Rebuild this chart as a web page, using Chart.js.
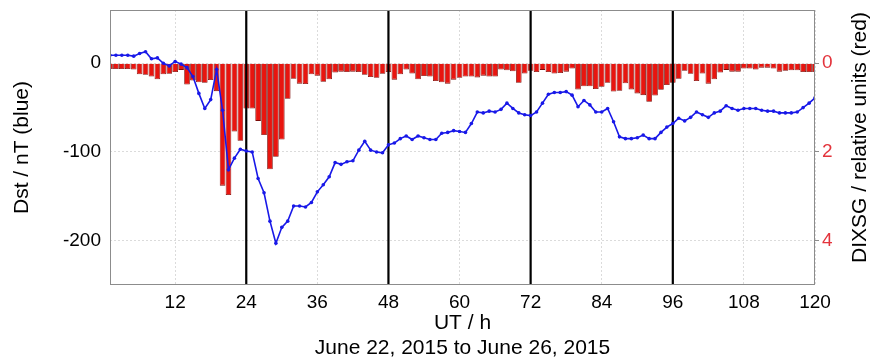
<!DOCTYPE html>
<html>
<head>
<meta charset="utf-8">
<script src="https://cdn.jsdelivr.net/npm/chart.js@4/dist/chart.umd.min.js"></script>
<style>
  html, body { margin: 0; padding: 0; background: #ffffff; }
  #wrap { width: 870px; height: 359px; }
</style>
</head>
<body>
<div id="wrap"><canvas id="c" width="870" height="359"></canvas></div>
<script>
// Hourly values, June 22 - June 26, 2015 (UT hours 1..120)
const hours = [
  1, 2, 3, 4, 5, 6, 7, 8, 9, 10, 11, 12, 13, 14, 15, 16, 17, 18, 19, 20,
  21, 22, 23, 24, 25, 26, 27, 28, 29, 30, 31, 32, 33, 34, 35, 36, 37, 38, 39, 40,
  41, 42, 43, 44, 45, 46, 47, 48, 49, 50, 51, 52, 53, 54, 55, 56, 57, 58, 59, 60,
  61, 62, 63, 64, 65, 66, 67, 68, 69, 70, 71, 72, 73, 74, 75, 76, 77, 78, 79, 80,
  81, 82, 83, 84, 85, 86, 87, 88, 89, 90, 91, 92, 93, 94, 95, 96, 97, 98, 99, 100,
  101, 102, 103, 104, 105, 106, 107, 108, 109, 110, 111, 112, 113, 114, 115, 116, 117, 118, 119, 120
];

// Dst index, nT
const dst = [
  9, 9, 9, 9, 8, 11, 13, 5, 6, 0,
  -3, 2, -1, -5, -15, -34, -51, -41, -7, -53,
  -120, -107, -97, -99, -100, -130, -146, -178, -203, -185,
  -178, -161, -161, -162, -157, -145, -137, -128, -112, -114,
  -111, -110, -98, -88, -98, -100, -101, -92, -90, -85,
  -82, -86, -82, -84, -86, -86, -79, -78, -76, -77,
  -78, -68, -55, -56, -54, -55, -52, -45, -51, -56,
  -58, -59, -55, -45, -35, -33, -33, -32, -36, -49,
  -42, -47, -55, -55, -51, -66, -83, -85, -85, -84,
  -81, -85, -85, -78, -72, -68, -62, -65, -61, -55,
  -58, -61, -56, -54, -48, -51, -53, -51, -51, -51,
  -53, -54, -54, -56, -56, -56, -55, -50, -45, -39
];

// DIXSG, relative units
const dixsg = [
  0.13, 0.13, 0.13, 0.13, 0.14, 0.25, 0.26, 0.30, 0.36, 0.25,
  0.24, 0.20, 0.15, 0.48, 0.39, 0.43, 0.44, 0.38, 0.63, 2.76,
  2.97, 1.54, 1.75, 1.02, 1.02, 1.30, 1.62, 2.39, 2.11, 1.72,
  0.80, 0.35, 0.46, 0.47, 0.25, 0.28, 0.42, 0.36, 0.21, 0.19,
  0.20, 0.19, 0.20, 0.26, 0.31, 0.33, 0.24, 0.20, 0.37, 0.25,
  0.14, 0.23, 0.36, 0.29, 0.30, 0.40, 0.43, 0.46, 0.37, 0.33,
  0.30, 0.30, 0.32, 0.28, 0.30, 0.30, 0.14, 0.16, 0.18, 0.44,
  0.23, 0.17, 0.20, 0.15, 0.20, 0.23, 0.22, 0.19, 0.12, 0.59,
  0.52, 0.52, 0.58, 0.53, 0.44, 0.64, 0.62, 0.45, 0.59, 0.68,
  0.72, 0.87, 0.73, 0.60, 0.49, 0.44, 0.35, 0.17, 0.24, 0.40,
  0.23, 0.46, 0.36, 0.21, 0.15, 0.19, 0.19, 0.12, 0.12, 0.14,
  0.10, 0.10, 0.12, 0.19, 0.17, 0.16, 0.16, 0.20, 0.20, 0.20
];

// Day boundaries (midnight UT)
const dayMarks = [24, 48, 72, 96];

// Tick labels
const xTicks = [12, 24, 36, 48, 60, 72, 84, 96, 108, 120];
const dstTicks = [-200, -100, 0];
const dixsgTicks = [0, 2, 4];

// Axis limits
const xMin = 1, xMax = 120;
const dstMin = -250, dstMax = 60;
const dixsgMin = -1.2, dixsgMax = 5;

const xTitle = ['UT / h', 'June 22, 2015 to June 26, 2015'];
const leftTitle = 'Dst / nT (blue)';
const rightTitle = 'DIXSG / relative units (red)';

const FONT = '"Liberation Sans", Arial, Helvetica, sans-serif';
const tickFont = { family: FONT, size: 19 };
const titleFont = { family: FONT, size: 21, lineHeight: 1.2 };
const gridColor = 'rgba(0,0,0,0.14)';

const dstPoints = hours.map((h, i) => ({ x: h, y: dst[i] }));
const dixsgPoints = hours.map((h, i) => ({ x: h, y: dixsg[i] }));
const markPoints = dayMarks.flatMap(d => [
  { x: d, y: dstMin }, { x: d, y: dstMax }, { x: d, y: null }
]);

const setTicks = values => scale => { scale.ticks = values.map(v => ({ value: v })); };
// fixed axis box size, no extra room reserved for overhanging labels
const fixBox = (w, h) => scale => {
  if (w !== null) scale.width = w;
  if (h !== null) scale.height = h;
  scale.paddingLeft = scale.paddingRight = scale.paddingTop = scale.paddingBottom = 0;
};

// Plot box and the rotated right-hand axis title
const frame = {
  id: 'frame',
  afterDraw(chart) {
    const { ctx, chartArea: a } = chart;
    ctx.save();
    ctx.strokeStyle = '#8c8c8c';
    ctx.lineWidth = 1;
    ctx.strokeRect(a.left + 0.5, a.top + 0.5, a.right - a.left - 1, a.bottom - a.top - 1);
    ctx.translate(chart.width - 10, (a.top + a.bottom) / 2 - 10);
    ctx.rotate(-Math.PI / 2);
    ctx.fillStyle = '#000000';
    ctx.font = '21px ' + FONT;
    ctx.textAlign = 'center';
    ctx.textBaseline = 'middle';
    ctx.fillText(rightTitle, 0, 0);
    ctx.restore();
  }
};

new Chart(document.getElementById('c'), {
  data: {
    datasets: [
      {
        type: 'line',
        label: 'Dst',
        data: dstPoints,
        yAxisID: 'y',
        borderColor: '#1818e8',
        backgroundColor: '#1818e8',
        borderWidth: 1.6,
        pointRadius: 1.8,
        pointBorderWidth: 0,
        pointBackgroundColor: '#1818e8',
        tension: 0,
        order: 1
      },
      {
        type: 'line',
        label: 'day',
        data: markPoints,
        yAxisID: 'y',
        borderColor: '#000000',
        borderWidth: 2.2,
        pointRadius: 0,
        spanGaps: false,
        order: 2
      },
      {
        type: 'bar',
        label: 'DIXSG',
        data: dixsgPoints,
        yAxisID: 'y2',
        backgroundColor: '#e8150f',
        borderColor: '#7a0a06',
        borderWidth: 0.8,
        barPercentage: 1,
        categoryPercentage: 0.95,
        order: 3
      }
    ]
  },
  options: {
    responsive: false,
    animation: false,
    devicePixelRatio: 1,
    layout: { padding: { top: 10, left: 0, right: 0, bottom: 0 } },
    plugins: { legend: { display: false }, tooltip: { enabled: false } },
    scales: {
      x: {
        type: 'linear',
        position: 'bottom',
        offset: false,
        min: xMin,
        max: xMax,
        afterBuildTicks: setTicks(xTicks),
        afterFit: fixBox(null, 74),
        ticks: { font: tickFont, color: '#000000', padding: 6, maxRotation: 0, autoSkip: false },
        grid: { color: gridColor, lineWidth: 1, drawTicks: false, offset: false },
        border: { display: false, dash: [2, 2] },
        title: { display: true, text: xTitle, font: titleFont, color: '#000000', padding: { top: 0, bottom: -2 } }
      },
      y: {
        type: 'linear',
        position: 'left',
        min: dstMin,
        max: dstMax,
        afterBuildTicks: setTicks(dstTicks),
        afterFit: fixBox(110, null),
        ticks: { font: tickFont, color: '#000000', padding: 9 },
        grid: { color: gridColor, lineWidth: 1, drawTicks: false },
        border: { display: false, dash: [2, 2] },
        title: { display: true, text: leftTitle, font: titleFont, color: '#000000', padding: { top: 10, bottom: 0 } }
      },
      y2: {
        type: 'linear',
        position: 'right',
        reverse: true,
        min: dixsgMin,
        max: dixsgMax,
        afterBuildTicks: setTicks(dixsgTicks),
        afterFit: fixBox(55, null),
        ticks: { font: tickFont, color: '#e3343c', padding: 3 },
        grid: { drawOnChartArea: false, color: '#8c8c8c', tickLength: 4 },
        border: { display: false }
      }
    }
  },
  plugins: [frame]
});
</script>
</body>
</html>
